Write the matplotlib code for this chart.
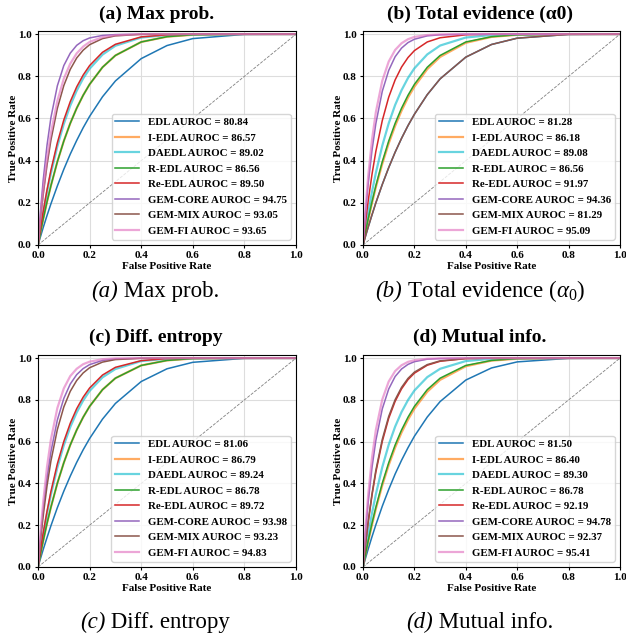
import matplotlib
matplotlib.use('Agg')
import matplotlib.pyplot as plt

plt.rcParams['font.family'] = ['Liberation Serif', 'DejaVu Serif']
plt.rcParams['mathtext.fontset'] = 'custom'
plt.rcParams['mathtext.rm'] = 'Liberation Serif'
plt.rcParams['mathtext.it'] = 'Liberation Serif:italic'

## Metodos y colores
methods = ['EDL', 'I-EDL', 'DAEDL', 'R-EDL', 'Re-EDL', 'GEM-CORE', 'GEM-MIX', 'GEM-FI']
colors = ['tab:blue', 'tab:orange', 'tab:cyan', 'tab:green', 'tab:red',
          'tab:purple', 'tab:brown', 'tab:pink']

## FPR comun a todas las curvas
fpr = [0, 0.01, 0.02, 0.035, 0.05, 0.075, 0.1, 0.125, 0.15, 0.175, 0.2, 0.25, 0.3, 0.4, 0.5, 0.6, 0.8, 1.0]

titles = ['(a) Max prob.', '(b) Total evidence (\u03b10)', '(c) Diff. entropy', '(d) Mutual info.']
cap_tags = ['(a)', '(b)', '(c)', '(d)']
cap_texts = [' Max prob.', r' Total evidence $(\alpha_0)$', ' Diff. entropy', ' Mutual info.']

auroc_a = [80.84, 86.57, 89.02, 86.56, 89.50, 94.75, 93.05, 93.65]
auroc_b = [81.28, 86.18, 89.08, 86.56, 91.97, 94.36, 81.29, 95.09]
auroc_c = [81.06, 86.79, 89.24, 86.78, 89.72, 93.98, 93.23, 94.83]
auroc_d = [81.50, 86.40, 89.30, 86.78, 92.19, 94.78, 92.37, 95.41]

tpr_a = [
    [0, 0.041, 0.082, 0.140, 0.195, 0.280, 0.359, 0.431, 0.496, 0.556, 0.610, 0.703, 0.778, 0.884, 0.946, 0.979, 0.999, 1.0],
    [0, 0.063, 0.122, 0.205, 0.281, 0.395, 0.493, 0.577, 0.649, 0.710, 0.762, 0.843, 0.899, 0.963, 0.988, 0.997, 1.0, 1.0],
    [0, 0.078, 0.151, 0.251, 0.340, 0.468, 0.574, 0.661, 0.732, 0.790, 0.836, 0.903, 0.945, 0.984, 0.996, 0.999, 1.0, 1.0],
    [0, 0.063, 0.122, 0.205, 0.281, 0.395, 0.493, 0.577, 0.649, 0.710, 0.762, 0.843, 0.899, 0.963, 0.988, 0.997, 1.0, 1.0],
    [0, 0.082, 0.158, 0.262, 0.354, 0.485, 0.593, 0.680, 0.750, 0.806, 0.851, 0.914, 0.952, 0.987, 0.997, 1.0, 1.0, 1.0],
    [0, 0.166, 0.306, 0.474, 0.604, 0.755, 0.851, 0.910, 0.947, 0.969, 0.982, 0.994, 0.998, 1.0, 1.0, 1.0, 1.0, 1.0],
    [0, 0.126, 0.237, 0.379, 0.497, 0.648, 0.756, 0.833, 0.887, 0.924, 0.950, 0.979, 0.992, 0.999, 1.0, 1.0, 1.0, 1.0],
    [0, 0.138, 0.258, 0.409, 0.531, 0.683, 0.789, 0.860, 0.909, 0.941, 0.963, 0.986, 0.995, 1.0, 1.0, 1.0, 1.0, 1.0],
]
tpr_b = [
    [0, 0.043, 0.084, 0.143, 0.200, 0.287, 0.367, 0.440, 0.506, 0.566, 0.620, 0.713, 0.788, 0.891, 0.951, 0.981, 0.999, 1.0],
    [0, 0.061, 0.118, 0.199, 0.274, 0.385, 0.482, 0.565, 0.637, 0.699, 0.751, 0.834, 0.892, 0.959, 0.987, 0.997, 1.0, 1.0],
    [0, 0.079, 0.152, 0.252, 0.342, 0.471, 0.577, 0.664, 0.734, 0.792, 0.838, 0.904, 0.946, 0.984, 0.996, 0.999, 1.0, 1.0],
    [0, 0.063, 0.122, 0.205, 0.281, 0.395, 0.493, 0.577, 0.649, 0.710, 0.762, 0.843, 0.899, 0.963, 0.988, 0.997, 1.0, 1.0],
    [0, 0.109, 0.207, 0.335, 0.444, 0.590, 0.701, 0.783, 0.844, 0.889, 0.922, 0.963, 0.983, 0.997, 1.0, 1.0, 1.0, 1.0],
    [0, 0.155, 0.287, 0.449, 0.576, 0.729, 0.828, 0.893, 0.934, 0.960, 0.976, 0.992, 0.997, 1.0, 1.0, 1.0, 1.0, 1.0],
    [0, 0.043, 0.084, 0.143, 0.200, 0.287, 0.367, 0.440, 0.506, 0.566, 0.620, 0.713, 0.788, 0.891, 0.951, 0.981, 0.999, 1.0],
    [0, 0.177, 0.324, 0.499, 0.630, 0.779, 0.870, 0.925, 0.957, 0.976, 0.987, 0.996, 0.999, 1.0, 1.0, 1.0, 1.0, 1.0],
]
tpr_c = [
    [0, 0.042, 0.083, 0.141, 0.197, 0.284, 0.363, 0.435, 0.501, 0.561, 0.615, 0.708, 0.783, 0.888, 0.949, 0.980, 0.999, 1.0],
    [0, 0.064, 0.124, 0.209, 0.286, 0.401, 0.499, 0.584, 0.656, 0.717, 0.769, 0.849, 0.904, 0.965, 0.989, 0.998, 1.0, 1.0],
    [0, 0.080, 0.154, 0.256, 0.347, 0.476, 0.583, 0.670, 0.740, 0.797, 0.843, 0.908, 0.948, 0.986, 0.997, 0.999, 1.0, 1.0],
    [0, 0.064, 0.124, 0.209, 0.286, 0.401, 0.499, 0.584, 0.656, 0.717, 0.769, 0.849, 0.904, 0.965, 0.989, 0.998, 1.0, 1.0],
    [0, 0.084, 0.162, 0.267, 0.361, 0.494, 0.601, 0.688, 0.758, 0.813, 0.857, 0.919, 0.956, 0.988, 0.998, 1.0, 1.0, 1.0],
    [0, 0.145, 0.271, 0.427, 0.551, 0.704, 0.807, 0.876, 0.921, 0.950, 0.969, 0.989, 0.996, 1.0, 1.0, 1.0, 1.0, 1.0],
    [0, 0.129, 0.243, 0.388, 0.507, 0.658, 0.766, 0.841, 0.893, 0.929, 0.954, 0.981, 0.993, 0.999, 1.0, 1.0, 1.0, 1.0],
    [0, 0.168, 0.310, 0.480, 0.610, 0.761, 0.855, 0.914, 0.949, 0.971, 0.983, 0.995, 0.999, 1.0, 1.0, 1.0, 1.0, 1.0],
]
tpr_d = [
    [0, 0.043, 0.085, 0.145, 0.202, 0.291, 0.371, 0.445, 0.511, 0.571, 0.626, 0.718, 0.792, 0.895, 0.953, 0.982, 0.999, 1.0],
    [0, 0.062, 0.120, 0.202, 0.278, 0.391, 0.488, 0.572, 0.644, 0.705, 0.758, 0.839, 0.896, 0.961, 0.988, 0.997, 1.0, 1.0],
    [0, 0.080, 0.155, 0.257, 0.348, 0.478, 0.585, 0.672, 0.742, 0.799, 0.845, 0.909, 0.949, 0.986, 0.997, 0.999, 1.0, 1.0],
    [0, 0.064, 0.124, 0.209, 0.286, 0.401, 0.499, 0.584, 0.656, 0.717, 0.769, 0.849, 0.904, 0.965, 0.989, 0.998, 1.0, 1.0],
    [0, 0.112, 0.212, 0.343, 0.454, 0.601, 0.712, 0.793, 0.853, 0.897, 0.928, 0.966, 0.985, 0.998, 1.0, 1.0, 1.0, 1.0],
    [0, 0.167, 0.307, 0.476, 0.606, 0.757, 0.852, 0.912, 0.948, 0.970, 0.983, 0.995, 0.998, 1.0, 1.0, 1.0, 1.0, 1.0],
    [0, 0.115, 0.217, 0.350, 0.463, 0.611, 0.721, 0.801, 0.860, 0.903, 0.933, 0.969, 0.987, 0.998, 1.0, 1.0, 1.0, 1.0],
    [0, 0.189, 0.343, 0.523, 0.656, 0.802, 0.888, 0.938, 0.966, 0.982, 0.990, 0.997, 0.999, 1.0, 1.0, 1.0, 1.0, 1.0],
]

aurocs = [auroc_a, auroc_b, auroc_c, auroc_d]
tprs = [tpr_a, tpr_b, tpr_c, tpr_d]

W, H = 626, 637
fig = plt.figure(figsize=(W / 100, H / 100), dpi=100)
renderer = fig.canvas.get_renderer()

## posiciones en pixeles: (izq, der, arriba, abajo)
boxes = [(38, 296, 31, 245), (363, 620, 31, 245), (38, 296, 355, 567), (363, 620, 355, 567)]
title_pos = [(157, 14), (480, 14), (156, 337), (480, 337)]
cap_pos = [(155, 297), (480, 297), (155, 628), (480, 628)]

light = {'tab:orange', 'tab:cyan', 'tab:pink'}

for i in range(4):
    l, r, t, b = boxes[i]
    ax = fig.add_axes([l / W, 1 - b / H, (r - l) / W, (b - t) / H])
    for m, c, y, a in zip(methods, colors, tprs[i], aurocs[i]):
        if c in light:
            ax.plot(fpr, y, color=c, lw=1.6, alpha=0.65, label=f'{m} AUROC = {a:.2f}')
        else:
            ax.plot(fpr, y, color=c, lw=1.1, label=f'{m} AUROC = {a:.2f}')
    ax.plot([0, 1], [0, 1], color='gray', ls='--', lw=0.6)
    ax.set_xlim(0, 1)
    ax.set_ylim(0, 1.015)
    ax.set_xticks([0, 0.2, 0.4, 0.6, 0.8, 1.0])
    ax.set_yticks([0, 0.2, 0.4, 0.6, 0.8, 1.0])
    ax.grid(True, color='#dddddd', lw=0.8)
    ax.tick_params(labelsize=8, length=2.5, pad=2)
    for lab in ax.get_xticklabels() + ax.get_yticklabels():
        lab.set_fontweight('bold')
    ax.set_xlabel('False Positive Rate', fontsize=8, fontweight='bold', labelpad=1)
    ax.set_ylabel('True Positive Rate', fontsize=8, fontweight='bold', labelpad=0)
    ax.legend(loc='lower right', prop={'weight': 'bold', 'size': 7.8},
              handlelength=2.2, labelspacing=0.55, borderpad=0.35)
    fig.text(title_pos[i][0] / W, 1 - title_pos[i][1] / H, titles[i],
             ha='center', va='center', fontsize=14, fontweight='bold')

    ## pie de figura: etiqueta en cursiva + texto normal
    cx, cy = cap_pos[i]
    t1 = fig.text(0, 1 - cy / H, cap_tags[i], fontsize=16.5, style='italic', va='baseline')
    t2 = fig.text(0, 1 - cy / H, cap_texts[i], fontsize=16.5, va='baseline')
    w1 = t1.get_window_extent(renderer).width
    w2 = t2.get_window_extent(renderer).width
    x0 = cx - (w1 + w2) / 2
    t1.set_x(x0 / W)
    t2.set_x((x0 + w1) / W)

plt.savefig('out.png', dpi=100)
